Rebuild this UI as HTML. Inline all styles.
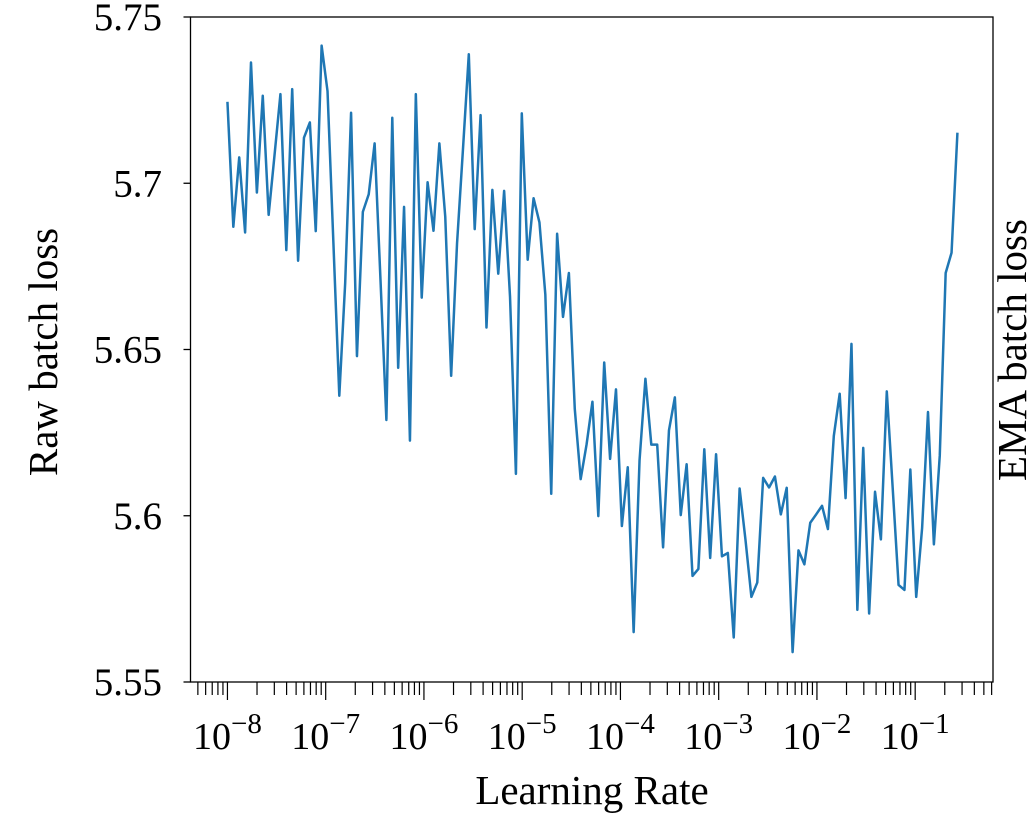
<!DOCTYPE html>
<html><head><meta charset="utf-8"><style>
html,body{margin:0;padding:0;background:#fff;}
svg text{font-family:"Liberation Serif",serif;fill:#000;}
</style></head><body>
<svg id="chart" width="1030" height="822" viewBox="0 0 1030 822" xmlns="http://www.w3.org/2000/svg"></svg>
<script>
const lossValues = [5.7245,5.6869,5.7078,5.6852,5.7363,5.6972,5.7263,5.6905,5.7085,5.7268,
5.6799,5.7283,5.6767,5.7137,5.7183,5.6856,5.7414,5.7277,5.682,5.6361,
5.670,5.7212,5.648,5.6914,5.6967,5.712,5.6709,5.6288,5.7197,5.6445,
5.6929,5.6226,5.7268,5.6656,5.7003,5.6857,5.712,5.6899,5.6421,5.6819,
5.71,5.7388,5.6862,5.7205,5.6566,5.698,5.6728,5.6977,5.6659,5.6126,
5.721,5.677,5.6955,5.6882,5.6665,5.6066,5.6848,5.6598,5.673,5.6321,
5.611,5.6214,5.6343,5.5999,5.6461,5.6171,5.638,5.5969,5.6146,5.565,
5.6166,5.6412,5.6214,5.6214,5.5905,5.6257,5.6356,5.6002,5.6155,5.5819,
5.584,5.62,5.5873,5.6185,5.5878,5.5888,5.5634,5.6082,5.5927,5.5756,
5.5799,5.6114,5.6085,5.6118,5.6004,5.6084,5.559,5.5896,5.5854,5.5979,
5.6004,5.603,5.596,5.624,5.6367,5.6053,5.6517,5.5717,5.6204,5.5706,
5.6072,5.5929,5.6374,5.6084,5.5792,5.5777,5.6139,5.5756,5.5963,5.6312,
5.5914,5.6181,5.673,5.6791,5.7152];
const lrLog10Start = -8;
const lrLog10End = -0.57;
const yTicks = [5.55,5.6,5.65,5.7,5.75];
const yTickLabels = ["5.55","5.6","5.65","5.7","5.75"];
const xDecades = [-8,-7,-6,-5,-4,-3,-2,-1];

const NS="http://www.w3.org/2000/svg";
const svg=document.getElementById('chart');
const L=190.5,R=993,T=17,B=682;
const xMin=-8.376,xMax=-0.208,yMin=5.55,yMax=5.75;
function xs(lg){return L+(lg-xMin)/(xMax-xMin)*(R-L);}
function ys(v){return B-(v-yMin)/(yMax-yMin)*(B-T);}
function mk(tag,attrs,parent){const e=document.createElementNS(NS,tag);for(const k in attrs)e.setAttribute(k,attrs[k]);(parent||svg).appendChild(e);return e;}

const n=lossValues.length;
let d='';
lossValues.forEach((v,i)=>{const lg=lrLog10Start+(lrLog10End-lrLog10Start)*i/(n-1);d+=(i?'L':'M')+xs(lg).toFixed(2)+','+ys(v).toFixed(2);});
const line=mk('path',{d:d,fill:'none',stroke:'#1f77b4','stroke-width':2.5,'stroke-linejoin':'round'});



const frame=mk('rect',{x:L,y:T,width:R-L,height:B-T,fill:'none',stroke:'#000','stroke-width':1.3});



yTicks.forEach((v,i)=>{
  const y=ys(v);
  const t=mk('line',{x1:L-7,x2:L,y1:y,y2:y,stroke:'#000','stroke-width':1.3});
  
  
  const tx=mk('text',{x:162,y:y+13,'text-anchor':'end','font-size':39});
  tx.textContent=yTickLabels[i];
  
  
});

for(let dcd=-9;dcd<=0;dcd++){
  for(let m=1;m<10;m++){
    const lg=dcd+Math.log10(m);
    if(lg<xMin||lg>xMax)continue;
    const x=xs(lg);
    const major=m===1;
    const t=mk('line',{x1:x,x2:x,y1:B,y2:B+(major?18:13),stroke:'#000','stroke-width':1.2});
    
    
  }
}
xDecades.forEach(dc=>{
  const x=xs(dc);
  const tx=mk('text',{x:x,y:749,'text-anchor':'middle','font-size':38});
  tx.textContent='10';
  const s=mk('tspan',{dy:-16,'font-size':29},tx);
  s.textContent='\u2212'+(-dc);
  
  
});

const xt=mk('text',{x:592,y:804,'text-anchor':'middle','font-size':41});
xt.textContent='Learning Rate';



const yt=mk('text',{x:0,y:0,'text-anchor':'middle','font-size':41,transform:'translate(57,352) rotate(-90)'});
yt.textContent='Raw batch loss';



const y2=mk('text',{x:0,y:0,'text-anchor':'middle','font-size':41,transform:'translate(1026,350) rotate(-90)'});
y2.textContent='EMA batch loss';


</script>
</body></html>
